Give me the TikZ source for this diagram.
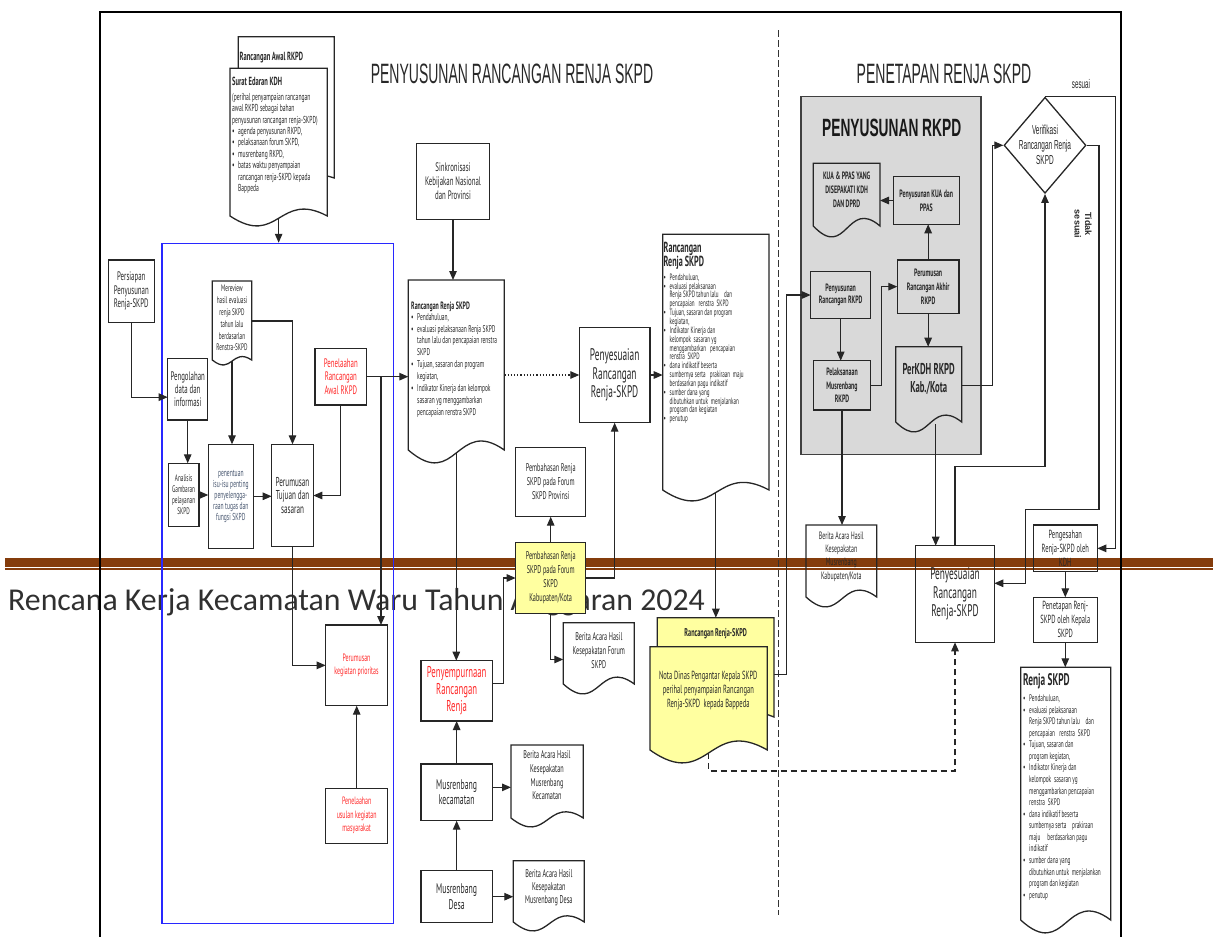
\documentclass[tikz,border=0pt]{standalone}
\usepackage{fontspec}
\setmainfont{PT Sans}[FakeStretch=0.555,Scale=1.12]
\newfontfamily\ttl{Liberation Sans}[FakeStretch=0.5]
\newfontfamily\ttlb{Liberation Sans}[FakeStretch=0.55]
\newfontfamily\arl{Liberation Sans}
\newfontfamily\ftr{Carlito}
\usetikzlibrary{arrows.meta,shapes.geometric}
\definecolor{bandc}{RGB}{132,60,12}
\definecolor{yel}{RGB}{255,255,160}
\definecolor{gbox}{RGB}{217,217,217}
\definecolor{redt}{RGB}{255,40,40}
\definecolor{bluet}{RGB}{70,85,110}
\definecolor{txt}{RGB}{40,40,40}
\definecolor{ftrc}{RGB}{48,48,48}
\definecolor{blueb}{RGB}{40,40,255}
\newcommand\fs[2]{\fontsize{#1}{#2}\selectfont}
\newcommand\blt{\makebox[6pt][l]{•}}
\newcommand\cnt{\hspace*{6pt}}
\tikzset{
  bxs/.style={draw=black!85,line width=1.3pt,inner sep=1pt,outer sep=0pt,align=center,text=txt,font=\fs{11}{13.4}},
  docl/.style={draw=black!85,line width=1.3pt,fill=white},
  arr/.style={line width=1.2pt,draw=black!85,-{Triangle[length=9pt,width=7.5pt]}},
  lbl/.style={align=center,text=txt,inner sep=0pt},
  lst/.style={align=left,text=txt,inner sep=0pt,anchor=north west},
}
\newcommand\bx[7]{\node[bxs,#6,minimum width={(#4-#2)*1pt},minimum height={(#5-#3)*1pt}] (#1) at ({(#2+#4)/2},{(#3+#5)/2}) {#7};}
\newcommand\dnode[6]{\node[inner sep=0pt,outer sep=0pt,minimum width={(#4-#2)*1pt},minimum height={(#5+0.225*#6-#3)*1pt}] (#1) at ({(#2+#4)/2},{(#3+#5+0.225*#6)/2}) {};}
\newcommand\dshape[6]{\draw[docl,#6] (#1,#2) -- (#3,#2) -- (#3,#4) .. controls ({(#1+#3)/2},{#4-2.6*#5}) and ({(#1+#3)/2},{#4+3.2*#5}) .. (#1,#4) -- cycle;}
\begin{document}
\begin{tikzpicture}[x=1pt,y=-1pt]
\useasboundingbox (0,0) rectangle (1213,937);
% slide band and footer
\fill[bandc] (5,558.3) rectangle (1213,566.7);
\fill[bandc] (5,568.3) rectangle (1213,570);
\node[anchor=base west,font=\ftr\fs{31.8}{36},text=ftrc,inner sep=0pt] (footer) at (8,610) {Rencana Kerja Kecamatan Waru Tahun Anggaran 2024};
% frame and divider
\draw[line width=2pt] (100,937) -- (100,12) -- (1121,12) -- (1121,937);
\draw[dash pattern=on 7pt off 3pt,line width=0.9pt,black!80] (778,30) -- (778,915);
% titles
\node[font=\ttl\fs{28}{30},text=txt] (title1) at (512,74) {PENYUSUNAN RANCANGAN RENJA SKPD};
\node[font=\ttl\fs{28}{30},text=txt] (title2) at (944,74) {PENETAPAN RENJA SKPD};
% big areas
\node[draw=blueb,line width=1.1pt,inner sep=0pt,minimum width=231.3pt,minimum height=680pt] (bluebox) at (277.65,583.3) {};
\node[draw=black!75,fill=gbox,line width=1.3pt,inner sep=0pt,minimum width=180pt,minimum height=357.6pt] (graybox) at (891,275.5) {};
\node[font=\ttlb\bfseries\fs{25}{28},text=black!90] (title3) at (891.7,128) {PENYUSUNAN RKPD};
% ---- boxes
\bx{persiapan}{108.3}{260}{154.3}{322.3}{}{Persiapan\\Penyusunan\\Renja-SKPD}
\bx{pengolahan}{167.7}{358.3}{207.7}{420}{}{Pengolahan\\data dan\\informasi}
\bx{analisis}{168.3}{463.3}{199}{526.7}{font=\fs{8.5}{11}}{Analisis\\Gambaran\\pelayanan\\SKPD}
\bx{penentuan}{208.3}{444.3}{253.3}{548.3}{text=bluet,font=\fs{9}{11}}{penentuan\\isu-isu penting\\penyelengga-\\raan tugas dan\\fungsi SKPD}
\bx{perumusanTS}{271.7}{444.3}{313.3}{546.7}{font=\fs{11.5}{13.7}}{Perumusan\\Tujuan dan\\sasaran}
\bx{penelaahanRA}{315}{348.3}{366.7}{405}{text=redt}{Penelaahan\\Rancangan\\Awal RKPD}
\bx{kegiatanP}{325.7}{625}{387.3}{705.7}{text=redt,font=\fs{9.5}{12.3}}{Perumusan\\kegiatan prioritas}
\bx{usulan}{325.7}{788.3}{387.7}{843.3}{text=redt,font=\fs{9.5}{13.5}}{Penelaahan\\usulan kegiatan\\masyarakat}
\bx{sinkron}{416.7}{143.3}{489.3}{219.3}{font=\fs{11}{14}}{Sinkronisasi\\Kebijakan Nasional\\dan Provinsi}
\bx{penyesMid}{579.3}{327.3}{650}{422.7}{font=\fs{15}{18.3}}{Penyesuaian\\Rancangan\\Renja-SKPD}
\bx{provinsi}{515.7}{447.3}{585.7}{516.7}{font=\fs{10}{14}}{Pembahasan Renja\\SKPD pada Forum\\SKPD Provinsi}
\bx{kabkota}{515.7}{542.7}{585.7}{613.3}{fill=yel,font=\fs{10}{14}}{Pembahasan Renja\\SKPD pada Forum\\SKPD\\Kabupaten/Kota}
\bx{penyempurnaan}{421}{660.7}{492.3}{721}{text=redt,font=\fs{14}{17}}{Penyempurnaan\\Rancangan\\Renja}
\bx{kecamatan}{421}{764}{492.3}{820.7}{font=\fs{12.5}{15}}{Musrenbang\\kecamatan}
\bx{desa}{421}{870.7}{492.3}{922.7}{font=\fs{12.5}{15.7}}{Musrenbang\\Desa}
\bx{kuaBox}{893.3}{176.7}{959.3}{224.3}{font=\bfseries\fs{9.5}{14.3}}{Penyusunan KUA dan\\PPAS}
\bx{akhir}{897.3}{260}{959}{313.3}{font=\bfseries\fs{9.5}{13.7}}{Perumusan\\Rancangan Akhir\\RKPD}
\bx{rancRKPD}{810.7}{271.7}{870.7}{318.3}{font=\bfseries\fs{9.5}{12.5}}{Penyusunan\\Rancangan RKPD}
\bx{pelaksanaan}{813.3}{360.7}{870.7}{410}{font=\bfseries\fs{9.5}{13.8}}{Pelaksanaan\\Musrenbang\\RKPD}
\bx{penyesRight}{915.7}{545.7}{994.3}{642.3}{font=\fs{15}{18.3}}{Penyesuaian\\Rancangan\\Renja-SKPD}
\bx{pengesahan}{1033.3}{525}{1097.3}{571.7}{font=\fs{10.5}{14.3}}{Pengesahan\\Renja-SKPD oleh\\KDH}
\bx{penetapan}{1033.3}{597.3}{1097.3}{642.3}{font=\fs{10.5}{14}}{Penetapan Renj-\\SKPD oleh Kepala\\SKPD}
\node[draw=black!85,line width=1.3pt,diamond,inner sep=0pt,minimum width=82pt,minimum height=96pt] (verif) at (1045,145.3) {};
\node[lbl,font=\ttl\fs{13}{15}] (verift) at (1045,145.3) {Verifikasi\\Rancangan Renja\\SKPD};
% ---- document anchors
\dnode{awalBack}{238.3}{36.7}{334.3}{178}{6}
\dnode{surat}{230}{68.3}{327.3}{216}{10}
\dnode{mereview}{212.3}{281}{251.7}{360}{5}
\dnode{doc1}{408.3}{280}{504.3}{450}{13}
\dnode{beritaForum}{563.3}{622.7}{634.3}{684}{10}
\dnode{beritaKec}{511}{745}{583.3}{818}{9}
\dnode{beritaDesa}{513.3}{860.7}{584.3}{922}{9}
\dnode{doc2}{662.7}{234.3}{769}{490}{11}
\dnode{yelBack}{657.3}{617.7}{774}{717}{9}
\dnode{nota}{650}{646.7}{767.3}{750}{13}
\dnode{kuaDoc}{813.3}{163.3}{880}{226}{11}
\dnode{perkdh}{895.7}{346.7}{961.7}{422}{10}
\dnode{beritaKab}{806}{525}{876.7}{597}{10}
\dnode{renja}{1020.7}{667.3}{1110.7}{920}{13}
% ---- connectors
\draw[arr] (surat.south) -- (surat.south |- bluebox.north);
\draw[arr] (persiapan.south) |- ([yshift=-8pt]pengolahan.west);
\draw[arr] (pengolahan.south) -- (pengolahan.south |- analisis.north);
\draw[arr] (analisis.east) -- (analisis.east -| penentuan.west);
\draw[arr] (mereview.south) -- (mereview.south |- penentuan.north);
\draw[arr] (mereview.east) -| (perumusanTS.north);
\draw[arr] (penentuan.east) -- (penentuan.east -| perumusanTS.west);
\draw[arr] (penelaahanRA.south) |- (perumusanTS.east);
\draw[arr] (penelaahanRA.east) -- (penelaahanRA.east -| doc1.west);
\coordinate (br1) at (381,376.7);
\draw[arr] (br1) -- (br1 |- kegiatanP.north);
\draw[arr] (perumusanTS.south) |- (kegiatanP.west);
\draw[arr] (usulan.north) -- (usulan.north |- kegiatanP.south);
\draw[arr] (sinkron.south) -- (sinkron.south |- doc1.north);
\draw[arr,dotted] (penyesMid.west -| doc1.east) -- (penyesMid.west);
\draw[arr] (penyesMid.east) -- (penyesMid.east -| doc2.west);
\draw[arr] (doc1.south) -- (doc1.south |- penyempurnaan.north);
\draw[arr] ([yshift=7.5pt]penyempurnaan.east) -- ++(11,0) |- (kabkota.west);
\draw[arr] (kabkota.north) -- (kabkota.north |- provinsi.south);
\draw[arr] (kabkota.south) |- ([yshift=-5pt]beritaForum.west);
\draw[arr] (kabkota.east) -| (penyesMid.south);
\draw[arr] (kecamatan.north) -- (kecamatan.north |- penyempurnaan.south);
\draw[arr] ([yshift=5pt]kecamatan.east) -- ([yshift=5pt]kecamatan.east -| beritaKec.west);
\draw[arr] (desa.north) -- (desa.north |- kecamatan.south);
\draw[arr] (desa.east) -- (desa.east -| beritaDesa.west);
\draw[arr] (doc2.south) -- (doc2.south |- yelBack.north);
\draw[arr] ([yshift=-6pt]yelBack.east) -- ++(12.7,0) |- (rancRKPD.west);
\draw[arr,dash pattern=on 6pt off 4pt] (nota.south) -- ++(0,18) -| (penyesRight.south);
\draw[arr] (rancRKPD.south) -- (rancRKPD.south |- pelaksanaan.north);
\draw[arr] (pelaksanaan.east) -- ++(11,0) |- (akhir.west);
\draw[arr] (akhir.north) -- (akhir.north |- kuaBox.south);
\draw[arr] (kuaBox.west) -- (kuaBox.west -| kuaDoc.east);
\draw[arr] (akhir.south) -- (akhir.south |- perkdh.north);
\draw[arr] (perkdh.east) -- ++(31,0) |- (verif.west);
\draw[arr] (pelaksanaan.south) -- (pelaksanaan.south |- beritaKab.north);
\draw[arr] ([xshift=7pt]perkdh.south) -- ([xshift=7pt]perkdh.south |- penyesRight.north);
\draw[arr] (penyesRight.north) -- ++(0,-79) -| (verif.south);
\draw[arr] (verif.north) -- ++(70.7,0) |- (pengesahan.east);
\draw[arr] (verif.east) -- ++(12.3,0) -- ++(0,364.3) -- ++(-73.3,0) |- ([yshift=10.7pt]penyesRight.east);
\draw[arr] (pengesahan.south) -- (pengesahan.south |- penetapan.north);
\draw[arr] (penetapan.south) -- (penetapan.south |- renja.north);
% ---- document shapes
\dshape{238.3}{36.7}{334.3}{178}{6}{}
\dshape{230}{68.3}{327.3}{216}{10}{}
\dshape{212.3}{281}{251.7}{360}{5}{}
\dshape{408.3}{280}{504.3}{450}{13}{}
\dshape{563.3}{622.7}{634.3}{684}{10}{}
\dshape{511}{745}{583.3}{818}{9}{}
\dshape{513.3}{860.7}{584.3}{922}{9}{}
\dshape{662.7}{234.3}{769}{490}{11}{}
\dshape{657.3}{617.7}{774}{717}{9}{fill=yel}
\dshape{650}{646.7}{767.3}{750}{13}{fill=yel}
\dshape{813.3}{163.3}{880}{226}{11}{fill=gbox}
\dshape{895.7}{346.7}{961.7}{422}{10}{fill=gbox}
\dshape{806}{525}{876.7}{597}{10}{fill=none}
\dshape{1020.7}{667.3}{1110.7}{920}{13}{}
% ---- document texts
\node[anchor=west,inner sep=0pt,text=txt,font=\bfseries\fs{10.5}{12}] (tawal) at (239.5,58) {Rancangan Awal RKPD};
\node[anchor=west,inner sep=0pt,text=txt,font=\bfseries\fs{10.5}{12}] (tsurat) at (232,81) {Surat Edaran KDH};
\node[lst,font=\fs{9}{11.4}] (lsurat) at (232,93) {(perihal penyampaian rancangan\\awal RKPD sebagai bahan\\penyusunan rancangan renja-SKPD)\\\blt agenda penyusunan RKPD,\\\blt pelaksanaan forum SKPD,\\\blt musrenbang RKPD,\\\blt batas waktu penyampaian\\\cnt rancangan renja-SKPD kepada\\\cnt Bappeda};
\node[lbl,font=\fs{8.5}{11.8}] (tmer) at (232,318) {Mereview\\hasil evaluasi\\renja SKPD\\tahun lalu\\berdasarlan\\Renstra-SKPD};
\node[anchor=west,inner sep=0pt,text=txt,font=\bfseries\fs{9.5}{11}] (tdoc1) at (411,306.7) {Rancangan Renja SKPD};
\node[lst,font=\fs{8.8}{11.9}] (ldoc1) at (411,313) {\blt Pendahuluan,\\\blt evaluasi pelaksanaan Renja SKPD\\\cnt tahun lalu dan pencapaian renstra\\\cnt SKPD\\\blt Tujuan, sasaran dan program\\\cnt kegiatan,\\\blt Indikator Kinerja dan kelompok\\\cnt sasaran yg menggambarkan\\\cnt pencapaian renstra SKPD};
\node[lst,font=\bfseries\fs{13}{13.6}] (tdoc2) at (663.5,242) {Rancangan\\Renja SKPD};
\node[lst,font=\fs{8.2}{8.85}] (ldoc2) at (663.5,273.5) {\blt Pendahuluan,\\\blt evaluasi pelaksanaan\\\cnt Renja SKPD tahun lalu~~~~dan\\\cnt pencapaian~~~renstra~~SKPD\\\blt Tujuan, sasaran dan program\\\cnt kegiatan,\\\blt Indikator Kinerja dan\\\cnt kelompok~~sasaran yg\\\cnt menggambarkan~~~pencapaian\\\cnt renstra~~SKPD\\\blt dana indikatif beserta\\\cnt sumbernya serta~~~prakiraan~~maju\\\cnt berdasarkan pagu indikatif\\\blt sumber dana yang\\\cnt dibutuhkan untuk~~menjalankan\\\cnt program dan kegiatan\\\blt penutup};
\node[lbl,font=\fs{10}{14}] (tforum) at (598.8,650.7) {Berita Acara Hasil\\Kesepakatan Forum\\SKPD};
\node[lbl,font=\fs{10}{13.7}] (tkec) at (547,775.5) {Berita Acara Hasil\\Kesepakatan\\Musrenbang\\Kecamatan};
\node[lbl,font=\fs{10}{13.3}] (tdesa) at (548.8,887.7) {Berita Acara Hasil\\Kesepakatan\\Musrenbang Desa};
\node[lbl,font=\bfseries\fs{10}{12}] (tyel) at (715.7,634) {Rancangan Renja-SKPD};
\node[lbl,font=\fs{10.5}{14}] (tnota) at (708.3,691) {Nota Dinas Pengantar Kepala SKPD\\perihal penyampaian Rancangan\\Renja-SKPD~~kepada Bappeda};
\node[lbl,font=\bfseries\fs{9.5}{14}] (tkua) at (846.7,189.5) {KUA \& PPAS YANG\\DISEPAKATI KDH\\DAN DPRD};
\node[lbl,font=\bfseries\fs{14}{18}] (tperkdh) at (928.7,379) {PerKDH RKPD\\Kab./Kota};
\node[lbl,font=\fs{9.5}{13.3}] (tkab) at (841.3,556.5) {Berita Acara Hasil\\Kesepakatan\\Musrenbang\\Kabupaten/Kota};
\node[anchor=west,inner sep=0pt,text=txt,font=\bfseries\fs{15}{16}] (trenja) at (1023,681.7) {Renja SKPD};
\node[lst,font=\fs{8.5}{11.57}] (lrenja) at (1023,694.5) {\blt Pendahuluan,\\\blt evaluasi pelaksanaan\\\cnt Renja SKPD tahun lalu~~~~dan\\\cnt pencapaian~~~renstra~~SKPD\\\blt Tujuan, sasaran dan\\\cnt program kegiatan,\\\blt Indikator Kinerja dan\\\cnt kelompok~~sasaran yg\\\cnt menggambarkan pencapaian\\\cnt renstra~~SKPD\\\blt dana indikatif beserta\\\cnt sumbernya serta~~~~prakiraan\\\cnt maju~~~~~berdasarkan pagu\\\cnt indikatif\\\blt sumber dana yang\\\cnt dibutuhkan untuk~~menjalankan\\\cnt program dan kegiatan\\\blt penutup};
% ---- labels on connectors
\node[lbl,font=\ttl\fs{12.5}{14}] (lsesuai) at (1081,84) {sesuai};
\node[lbl,font=\arl\bfseries\fs{9}{10.5},rotate=-90] (ltidak) at (1083,224) {Tidak\\sesuai};
\end{tikzpicture}
\end{document}
